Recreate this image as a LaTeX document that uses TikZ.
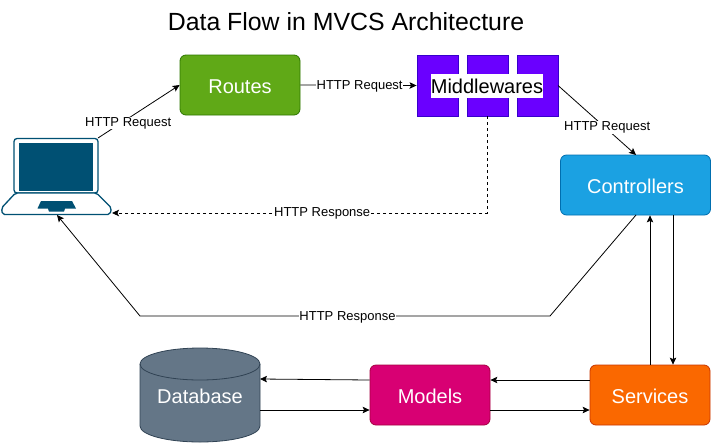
\documentclass[tikz,border=0pt]{standalone}
\usepackage{fontspec}
\setmainfont{Liberation Sans}
\usetikzlibrary{arrows.meta}
\definecolor{laptopblue}{HTML}{005073}
\definecolor{routesgreen}{HTML}{60A917}
\definecolor{routesline}{HTML}{2D7600}
\definecolor{mwviolet}{HTML}{6A00FF}
\definecolor{mwline}{HTML}{3700CC}
\definecolor{ctrlblue}{HTML}{1BA1E2}
\definecolor{ctrlline}{HTML}{006EAF}
\definecolor{svcorange}{HTML}{FA6800}
\definecolor{svcline}{HTML}{C73500}
\definecolor{modelpink}{HTML}{D80073}
\definecolor{modelline}{HTML}{A50040}
\definecolor{dbslate}{HTML}{647687}
\definecolor{dbline}{HTML}{314354}
\tikzset{
    >={Stealth[length=7pt,width=6.5pt,inset=1.5pt]},
    flow/.style={->,line width=0.8pt},
    box/.style={rectangle,rounded corners=6pt,minimum width=120pt,minimum height=60pt,
        inner sep=0pt,line width=0.8pt,text=white,text height=16pt,text depth=0pt,
        font=\fontsize{20}{24}\selectfont},
    block/.style={rectangle,draw=mwline,fill=mwviolet,minimum width=41pt,minimum height=61pt,
        inner sep=0pt,line width=0.5pt},
    msg/.style={fill=white,inner sep=0.5pt,font=\fontsize{13}{15}\selectfont},
}
\begin{document}
\begin{tikzpicture}[x=1pt,y=-1pt]
    \useasboundingbox (0,0) rectangle (712,445);
    \node (title) [font=\fontsize{24.85}{28}\selectfont] at (346,22) {Data Flow in MVCS Architecture};

    \node (routes) [box,draw=routesline,fill=routesgreen] at (240,85) {Routes};
    \node (ctrl) [box,draw=ctrlline,fill=ctrlblue,minimum width=150pt] at (635.5,185) {Controllers};
    \node (svc) [box,draw=svcline,fill=svcorange] at (650,395) {Services};
    \node (models) [box,draw=modelline,fill=modelpink] at (430,395) {Models};

    \node (m1) [block] at (437.3,85.5) {};
    \node (m2) [block] at (487.3,85.5) {};
    \node (m3) [block] at (537.3,85.5) {};
    \node (mw) [fill=white,minimum width=112pt,minimum height=24pt,inner sep=0pt,
        font=\fontsize{20}{24}\selectfont] at (487,86) {Middlewares};

    \draw [draw=dbline,fill=dbslate,line width=0.8pt]
        (140,364) -- (140,426) .. controls (140,435) and (167,442) .. (200,442)
        .. controls (233,442) and (260,435) .. (260,426) -- (260,364)
        .. controls (260,355) and (233,348) .. (200,348)
        .. controls (167,348) and (140,355) .. (140,364) -- cycle;
    \draw [draw=dbline,line width=0.8pt]
        (140,364) .. controls (140,373) and (167,380) .. (200,380)
        .. controls (233,380) and (260,373) .. (260,364);
    \node (db) [text=white,inner sep=0pt,font=\fontsize{20}{24}\selectfont] at (200,396) {Database};
    \coordinate (dbIn) at (260,379);
    \coordinate (dbOut) at (260,410);

    \draw [laptopblue,line width=1.3pt,fill=white,rounded corners=3pt]
        (14,193) -- (14,138.5) -- (98,138.5) -- (98,193) -- cycle;
    \fill [laptopblue] (19,143) rectangle (93,191);
    \draw [laptopblue,line width=1.3pt,fill=white,rounded corners=2pt]
        (15.5,193) -- (1.5,208) -- (2.5,214.5) -- (110,214.5) -- (111.5,208) -- (96.5,193) -- cycle;
    \fill [laptopblue] (41,201) -- (72,201) -- (76,208.5) -- (65,208.5) -- (64,211.5)
        -- (49,211.5) -- (48,208.5) -- (37.5,208.5) -- cycle;
    \coordinate (lapTop) at (98,138);
    \coordinate (lapBase) at (57,215);
    \coordinate (lapSide) at (112,213);

    \coordinate (dashTurn) at (487.3,213);
    \coordinate (backA) at (550,316);
    \coordinate (backB) at (140,316);
    \coordinate (ctrlOut) at (636,215);
    \coordinate (ctrlIn) at (636,155);

    \draw [flow] (lapTop) -- (routes.west) node [msg,pos=0.37,yshift=-4.5pt] {HTTP Request};
    \draw [flow] (routes.east) -- (m1.west) node [msg,pos=0.51,yshift=-1pt] {HTTP Request};
    \draw [flow] (m3.east) -- (ctrlIn) node [msg,pos=0.63,yshift=1.5pt] {HTTP Request};
    \draw [flow,dashed,dash pattern=on 3pt off 3pt,line width=0.9pt] (m2.south) -- (dashTurn) -- (lapSide)
        node [msg,pos=0.44,yshift=-0.8pt] {HTTP Response};
    \draw [flow] (ctrlOut) -- (backA) -- (backB) -- (lapBase);
    \node (backmsg) [msg] at (347.5,317) {HTTP Response};

    \draw [flow] ([xshift=14.5pt]svc.north -| ctrl.south) -- ([xshift=14.5pt]ctrl.south);
    \draw [flow] ([xshift=37.5pt]ctrl.south) -- ([xshift=23pt]svc.north);
    \draw [flow] ([yshift=15pt]svc.west) -- ([yshift=15pt]models.east);
    \draw [flow] ([yshift=-15pt]models.east) -- ([yshift=-15pt]svc.west);
    \draw [flow] ([yshift=15pt]models.west) -- (dbIn);
    \draw [flow] (dbOut) -- ([yshift=-15pt]models.west);
\end{tikzpicture}
\end{document}
